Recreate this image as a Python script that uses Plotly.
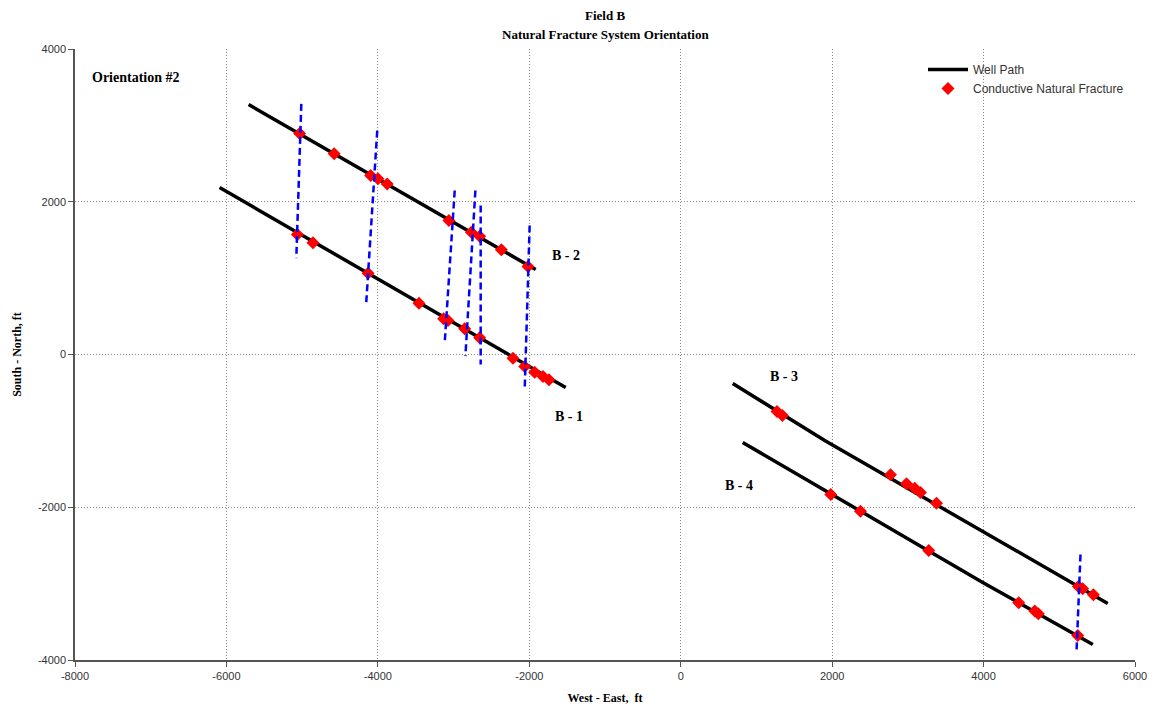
import plotly.graph_objects as go

# Well paths (West-East ft, South-North ft)
b1_x = [-6090, -1519]
b1_y = [2186, -432]
b2_x = [-5707, -1915]
b2_y = [3272, 1112]
b3_x = [687, 1902, 5640]
b3_y = [-380, -1126, -3259]
b4_x = [819, 3989, 5443]
b4_y = [-1152, -2984, -3796]

# Conductive natural fractures
frac_b1_x = [-5064, -4857, -4129, -3457, -3131, -3074, -2853, -2655, -2215, -2061, -1929, -1819, -1740]
frac_b1_y = [1571, 1462, 1065, 672, 467, 445, 336, 218, -48, -157, -231, -288, -332]
frac_b2_x = [-5033, -4577, -4095, -3999, -3877, -3061, -2766, -2655, -2369, -2017]
frac_b2_y = [2892, 2627, 2343, 2300, 2234, 1754, 1601, 1548, 1370, 1152]
frac_b3_x = [1272, 1343, 2771, 2982, 3091, 3166, 3378, 5252, 5309, 5450]
frac_b3_y = [-746, -798, -1575, -1693, -1750, -1806, -1946, -3037, -3067, -3146]
frac_b4_x = [1982, 2374, 3276, 4465, 4676, 4723, 5244]
frac_b4_y = [-1832, -2051, -2565, -3250, -3360, -3395, -3678]

# Fracture orientation lines (start x, start y, end x, end y)
orient_x0 = [-5011, -4008, -2985, -2712, -2642, -1995, 5280]
orient_y0 = [3281, 2932, 2147, 2147, 1950, 1688, -2618]
orient_x1 = [-5077, -4153, -3118, -2844, -2642, -2061, 5227]
orient_y1 = [1262, 685, 140, -22, -131, -471, -3910]

# Labels
well_labels = ["B - 2", "B - 1", "B - 3", "B - 4"]
label_x = [-1730, -1691, 1149, 555]
label_y = [1296, -812, -288, -1715]

x_ticks = [-8000, -6000, -4000, -2000, 0, 2000, 4000, 6000]
x_ticktext = ["-8000", "-6000", "-4000", "-2000", "0", "2000", "4000", "6000"]
y_ticks = [-4000, -2000, 0, 2000, 4000]
y_ticktext = ["-4000", "-2000", "0", "2000", "4000"]

fig = go.Figure()

paths = [(b1_x, b1_y), (b2_x, b2_y), (b3_x, b3_y), (b4_x, b4_y)]
for i, (px, py) in enumerate(paths):
    fig.add_trace(go.Scatter(x=px, y=py, mode="lines",
                             line=dict(color="black", width=3.5),
                             name="Well Path", legendgroup="wp",
                             showlegend=(i == 0)))

fx = frac_b1_x + frac_b2_x + frac_b3_x + frac_b4_x
fy = frac_b1_y + frac_b2_y + frac_b3_y + frac_b4_y
fig.add_trace(go.Scatter(x=fx, y=fy, mode="markers",
                         marker=dict(symbol="diamond", color="red", size=10, line=dict(width=0)),
                         name="Conductive Natural Fracture"))

for x0, y0, x1, y1 in zip(orient_x0, orient_y0, orient_x1, orient_y1):
    fig.add_trace(go.Scatter(x=[x0, x1], y=[y0, y1], mode="lines",
                             line=dict(color="#0000FF", width=2.5, dash="7px,4px"),
                             showlegend=False, hoverinfo="skip"))

for t, lx, ly in zip(well_labels, label_x, label_y):
    fig.add_annotation(x=lx, y=ly, text="<b>" + t + "</b>", showarrow=False,
                       xanchor="left", yanchor="middle",
                       font=dict(family="Liberation Serif", size=14, color="black"))

fig.add_annotation(xref="paper", yref="paper", x=0.014, y=0.953,
                   text="<b>Orientation #2</b>", showarrow=False,
                   xanchor="left", yanchor="middle",
                   font=dict(family="Liberation Serif", size=14, color="black"))

# Title lines
fig.add_annotation(xref="paper", yref="paper", x=0.5, y=1.0556,
                   text="<b>Field B</b>", showarrow=False,
                   xanchor="center", yanchor="middle",
                   font=dict(family="Liberation Serif", size=13, color="black"))
fig.add_annotation(xref="paper", yref="paper", x=0.5, y=1.0245,
                   text="<b>Natural Fracture System Orientation</b>", showarrow=False,
                   xanchor="center", yanchor="middle",
                   font=dict(family="Liberation Serif", size=13, color="black"))

axis_common = dict(showgrid=True, gridcolor="#888", griddash="1px,2px", gridwidth=1,
                   zeroline=False, showline=True, linecolor="#555", linewidth=1.5,
                   ticks="outside", ticklen=5, tickcolor="#555",
                   tickfont=dict(family="Liberation Sans", size=11, color="#333"))

fig.update_xaxes(range=[-8000, 6000], tickvals=x_ticks, ticktext=x_ticktext,
                 title=dict(text="<b>West - East,  ft</b>",
                            font=dict(family="Liberation Serif", size=12, color="black"),
                            standoff=13),
                 **axis_common)
fig.update_yaxes(range=[-4000, 4000], tickvals=y_ticks, ticktext=y_ticktext,
                 title=dict(text="<b>South - North, ft</b>",
                            font=dict(family="Liberation Serif", size=12, color="black"),
                            standoff=14),
                 **axis_common)

fig.update_layout(
    width=1159, height=709,
    margin=dict(l=75, r=24, t=49, b=49, autoexpand=False),
    paper_bgcolor="white", plot_bgcolor="white",
    legend=dict(x=0.8, y=0.99, xanchor="left", yanchor="top",
                bgcolor="rgba(0,0,0,0)", borderwidth=0,
                font=dict(family="Liberation Sans", size=12, color="#333"),
                tracegroupgap=0, itemwidth=40),
    showlegend=True,
)

fig.write_html("out.html", config={"displayModeBar": False},
               post_script="document.body.style.margin='0';")
